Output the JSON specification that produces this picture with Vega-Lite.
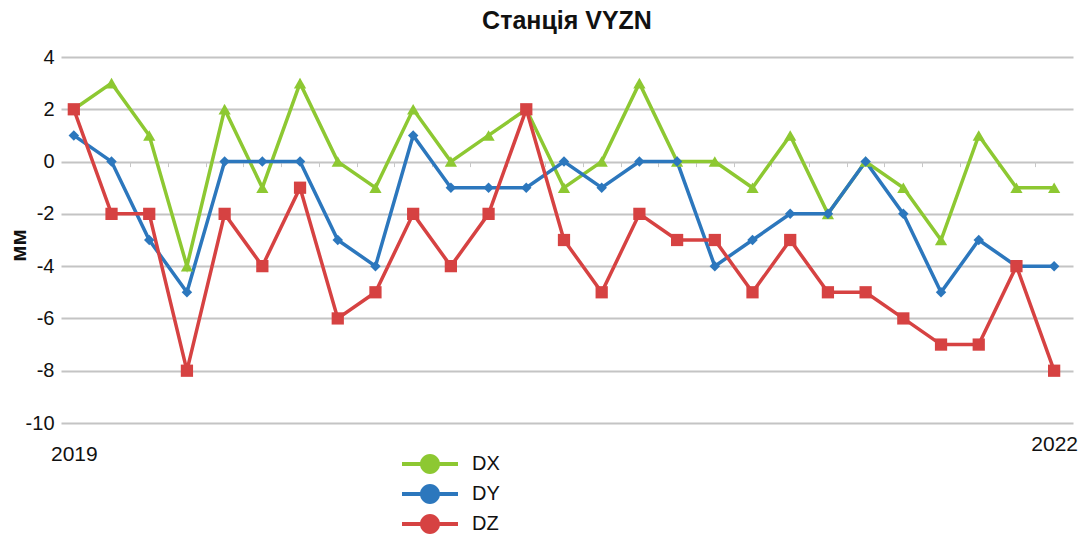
{
  "$schema": "https://vega.github.io/schema/vega-lite/v6.json",
  "autosize": {"type": "none"},
  "width": 1012,
  "height": 366,
  "padding": {"left": 61, "top": 57, "right": 10, "bottom": 119},
  "background": "white",
  "config": {"view": {"stroke": null}, "font": "Liberation Sans"},
  "title": {"text": "Станція VYZN", "fontSize": 25, "fontWeight": "bold", "font": "Liberation Sans", "color": "#111", "anchor": "middle", "offset": 13},
  "data": {"values": [
    {"i":0,"s":"DX","v":2},{"i":1,"s":"DX","v":3},{"i":2,"s":"DX","v":1},{"i":3,"s":"DX","v":-4},{"i":4,"s":"DX","v":2},{"i":5,"s":"DX","v":-1},{"i":6,"s":"DX","v":3},{"i":7,"s":"DX","v":0},{"i":8,"s":"DX","v":-1},{"i":9,"s":"DX","v":2},{"i":10,"s":"DX","v":0},{"i":11,"s":"DX","v":1},{"i":12,"s":"DX","v":2},{"i":13,"s":"DX","v":-1},{"i":14,"s":"DX","v":0},{"i":15,"s":"DX","v":3},{"i":16,"s":"DX","v":0},{"i":17,"s":"DX","v":0},{"i":18,"s":"DX","v":-1},{"i":19,"s":"DX","v":1},{"i":20,"s":"DX","v":-2},{"i":21,"s":"DX","v":0},{"i":22,"s":"DX","v":-1},{"i":23,"s":"DX","v":-3},{"i":24,"s":"DX","v":1},{"i":25,"s":"DX","v":-1},{"i":26,"s":"DX","v":-1},
    {"i":0,"s":"DY","v":1},{"i":1,"s":"DY","v":0},{"i":2,"s":"DY","v":-3},{"i":3,"s":"DY","v":-5},{"i":4,"s":"DY","v":0},{"i":5,"s":"DY","v":0},{"i":6,"s":"DY","v":0},{"i":7,"s":"DY","v":-3},{"i":8,"s":"DY","v":-4},{"i":9,"s":"DY","v":1},{"i":10,"s":"DY","v":-1},{"i":11,"s":"DY","v":-1},{"i":12,"s":"DY","v":-1},{"i":13,"s":"DY","v":0},{"i":14,"s":"DY","v":-1},{"i":15,"s":"DY","v":0},{"i":16,"s":"DY","v":0},{"i":17,"s":"DY","v":-4},{"i":18,"s":"DY","v":-3},{"i":19,"s":"DY","v":-2},{"i":20,"s":"DY","v":-2},{"i":21,"s":"DY","v":0},{"i":22,"s":"DY","v":-2},{"i":23,"s":"DY","v":-5},{"i":24,"s":"DY","v":-3},{"i":25,"s":"DY","v":-4},{"i":26,"s":"DY","v":-4},
    {"i":0,"s":"DZ","v":2},{"i":1,"s":"DZ","v":-2},{"i":2,"s":"DZ","v":-2},{"i":3,"s":"DZ","v":-8},{"i":4,"s":"DZ","v":-2},{"i":5,"s":"DZ","v":-4},{"i":6,"s":"DZ","v":-1},{"i":7,"s":"DZ","v":-6},{"i":8,"s":"DZ","v":-5},{"i":9,"s":"DZ","v":-2},{"i":10,"s":"DZ","v":-4},{"i":11,"s":"DZ","v":-2},{"i":12,"s":"DZ","v":2},{"i":13,"s":"DZ","v":-3},{"i":14,"s":"DZ","v":-5},{"i":15,"s":"DZ","v":-2},{"i":16,"s":"DZ","v":-3},{"i":17,"s":"DZ","v":-3},{"i":18,"s":"DZ","v":-5},{"i":19,"s":"DZ","v":-3},{"i":20,"s":"DZ","v":-5},{"i":21,"s":"DZ","v":-5},{"i":22,"s":"DZ","v":-6},{"i":23,"s":"DZ","v":-7},{"i":24,"s":"DZ","v":-7},{"i":25,"s":"DZ","v":-4},{"i":26,"s":"DZ","v":-8}
  ]},
  "resolve": {"axis": {"x": "independent"}},
  "encoding": {
    "x": {"field": "i", "type": "quantitative", "scale": {"domain": [-0.34, 26.5], "nice": false, "zero": false}, "axis": null},
    "y": {"field": "v", "type": "quantitative", "scale": {"domain": [-10, 4], "nice": false},
      "axis": {"values": [-10, -8, -6, -4, -2, 0, 2, 4], "labelExpr": "'' + datum.value", "title": "мм", "titleFontSize": 22, "titleFontWeight": "bold", "titleColor": "#111", "titleX": -43, "titleY": 188, "titleAngle": 270, "titleAlign": "center", "titleBaseline": "middle",
        "grid": true, "gridColor": "#C4C4C4", "gridWidth": 2, "domain": false, "ticks": false, "labelFontSize": 20, "labelColor": "#111", "labelPadding": 7, "labelFont": "Liberation Sans"}},
    "color": {"field": "s", "type": "nominal",
      "scale": {"domain": ["DX", "DY", "DZ"], "range": ["#8DC832", "#2C77BD", "#D64242"]},
      "legend": {"title": null, "orient": "none", "legendX": 359, "legendY": 397, "direction": "vertical",
        "symbolType": "M-2.8,-0.2L2.8,-0.2L2.8,0.2L-2.8,0.2Z M1,0A1,1,0,1,1,-1,0A1,1,0,1,1,1,0Z",
        "symbolSize": 400, "symbolStrokeWidth": 0, "labelFontSize": 20, "labelColor": "#111", "labelOffset": 32, "rowPadding": 10, "labelFont": "Liberation Sans",
        "encode": {"symbols": {"update": {
          "shape": {"value": "M-2.8,-0.2L2.8,-0.2L2.8,0.2L-2.8,0.2Z M1,0A1,1,0,1,1,-1,0A1,1,0,1,1,1,0Z"},
          "size": {"value": 400},
          "fill": {"scale": "color", "field": "value"}, "stroke": {"value": "transparent"}, "strokeWidth": {"value": 0}, "opacity": {"value": 1}}}}}}
  },
  "layer": [
    {"mark": {"type": "line", "strokeWidth": 3.5},
      "encoding": {"x": {"field": "i", "type": "quantitative", "scale": {"domain": [-0.34, 26.5], "nice": false, "zero": false},
        "axis": {"orient": "bottom", "values": [0, 26], "labelExpr": "datum.value == 0 ? '2019' : '2022'", "title": null, "grid": false, "domain": false, "ticks": false, "labelFontSize": 21, "labelColor": "#111", "labelFont": "Liberation Sans",
          "labelPadding": {"condition": {"test": "datum.value == 0", "value": 20}, "value": 10}}}}},
    {"transform": [{"filter": "datum.s == 'DX'"}], "mark": {"type": "point", "filled": true, "opacity": 1, "size": 150, "shape": "triangle-up"},
      "encoding": {"x": {"field": "i", "type": "quantitative", "scale": {"domain": [-0.34, 26.5], "nice": false, "zero": false},
        "axis": {"orient": "top", "offset": -104.6, "values": [0.5,1.5,2.5,3.5,4.5,5.5,6.5,7.5,8.5,9.5,10.5,11.5,12.5,13.5,14.5,15.5,16.5,17.5,18.5,19.5,20.5,21.5,22.5,23.5,24.5,25.5], "labels": false, "title": null, "grid": false, "domain": false, "ticks": true, "tickSize": -5, "tickWidth": 1, "tickColor": "#C8C8C8"}}}},
    {"transform": [{"filter": "datum.s == 'DY'"}], "mark": {"type": "point", "filled": true, "opacity": 1, "size": 110, "shape": "diamond"}},
    {"transform": [{"filter": "datum.s == 'DZ'"}], "mark": {"type": "point", "filled": true, "opacity": 1, "size": 150, "shape": "square"}}
  ]
}
